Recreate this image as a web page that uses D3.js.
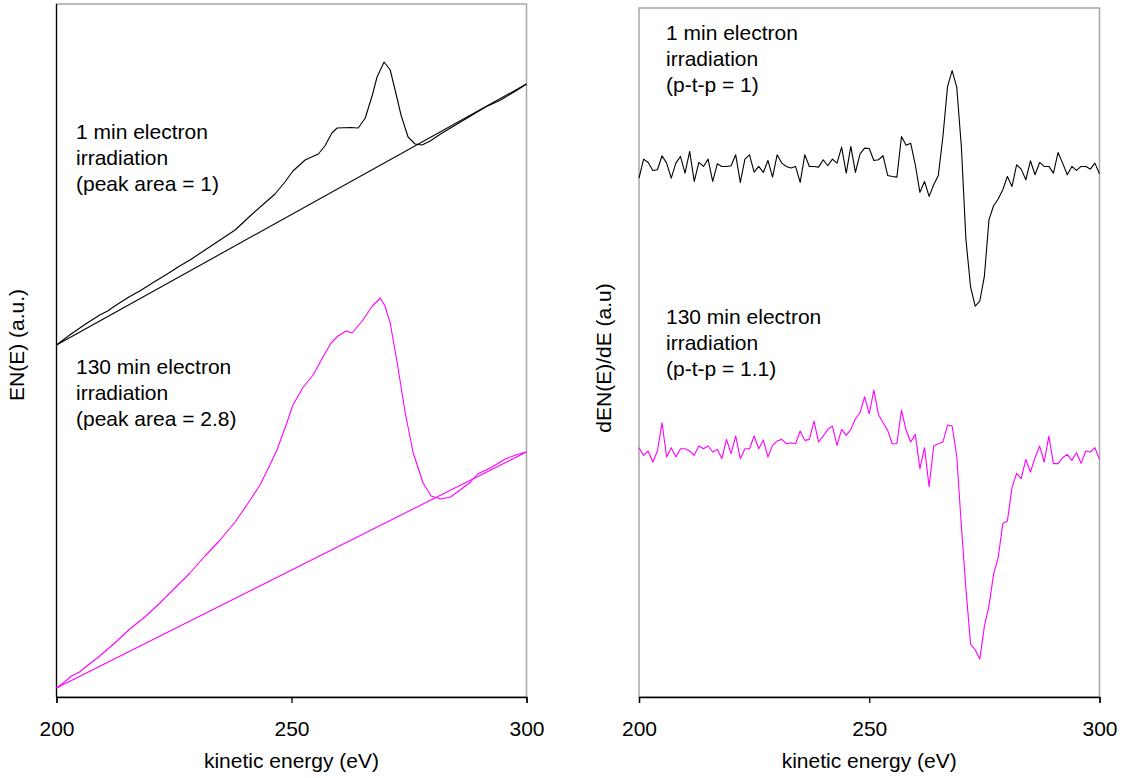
<!DOCTYPE html>
<html>
<head>
<meta charset="utf-8">
<title>EN(E) and dEN(E)/dE spectra</title>
<script src="https://d3js.org/d3.v7.min.js"></script>
<style>
  body { margin: 0; background: #fff; }
  svg text { font-family: "Liberation Sans", Arial, sans-serif; font-size: 21px; fill: #000; }
</style>
</head>
<body>
<svg id="svg" width="1125" height="778"></svg>
<script>
// x axis (kinetic energy, eV)
const xTicks = [200, 250, 300]

// ---- left panel: EN(E), a.u. ----
// 1 min irradiation
const energy1 = [200.0,202.8,206.2,209.2,210.9,212.4,215.4,217.7,221.1,223.9,
  226.2,228.4,231.6,234.8,238.0,241.2,244.3,246.5,248.6,250.3,
  252.9,255.7,257.1,258.6,259.7,262.5,264.2,265.7,267.2,268.2,
  269.7,271.0,272.3,273.3,274.8,276.3,277.8,279.5,281.7,284.9,
  288.1,291.3,294.5,297.7,300.0]
const enE1 = [352,362,373,382,386,391,400,406,416,424,
  431,437,447,457,467,481,494,503,515,526,
  537,543,551,564,569,569.5,569,579,602,620,
  635,627,602,582,560,553,552,556,563,572,
  581,590,597,606,613]
const bgEnergy1 = [200, 300]
const bg1 = [352, 613]

// 130 min irradiation
const energy130 = [200.0,201.7,203.2,204.9,207.0,209.2,212.4,215.6,218.8,222.0,
  225.2,228.4,231.6,234.8,238.0,241.2,243.3,245.4,246.9,249.0,
  250.3,252.5,254.6,256.7,258.4,259.9,261.6,262.9,265.2,267.2,
  268.9,269.9,271.0,272.5,274.2,275.9,278.0,279.7,281.7,283.8,
  285.9,288.1,289.6,292.3,295.5,297.7,300.0]
const enE130 = [9,15,21,25,33,41,54,68,80,94,
  109,124,141,157,175,197,212,232,247,274,
  292,310,322,340,354,361,366,364,377,391,
  399,391,374,334,284,244,214,201,198,200,
  207,215,223,229,238,242,245]
const bgEnergy130 = [200, 300]
const bg130 = [9, 245]

// ---- right panel: dEN(E)/dE, a.u. (1 eV steps) ----
const energyGrid = [200,201,202,203,204,205,206,207,208,209,
  210,211,212,213,214,215,216,217,218,219,
  220,221,222,223,224,225,226,227,228,229,
  230,231,232,233,234,235,236,237,238,239,
  240,241,242,243,244,245,246,247,248,249,
  250,251,252,253,254,255,256,257,258,259,
  260,261,262,263,264,265,266,267,268,269,
  270,271,272,273,274,275,276,277,278,279,
  280,281,282,283,284,285,286,287,288,289,
  290,291,292,293,294,295,296,297,298,299,300]
const dE1 = [152.9,158.6,157.6,155.2,155.4,159.6,157.4,152.9,157.4,159.4,
  154.4,160.9,151.9,157.6,156.4,158.6,151.9,157.2,156.4,156.4,
  156.6,159.9,151.6,158.6,159.9,154.7,156.4,154.6,158.2,153.2,
  159.9,157.4,156.4,155.9,156.4,151.6,159.9,156.4,156.4,156.2,
  158.4,156.6,158.6,157.4,162.2,154.4,162.4,154.6,160.2,161.9,
  161.8,158.2,158.4,159.6,153.7,153.4,153.2,165.4,162.8,163.4,
  156.9,148.6,151.9,147.4,150.9,153.7,165.4,180.4,185.2,180.2,
  162.4,134.4,120.2,114.4,115.9,123.4,140.4,144.6,146.6,149.4,
  153.4,150.4,156.9,155.6,152.4,158.1,153.9,157.6,156.4,156.4,
  154.4,160.6,157.4,153.9,156.4,155.2,156.4,156.4,155.6,157.4,154.2]
const dE130 = [71.9,69.6,70.9,67.6,70.9,79.4,69.1,71.9,69.1,71.6,
  71.6,70.9,69.6,72.4,71.6,72.4,70.6,71.4,68.6,74.4,
  70.1,75.4,68.6,71.6,71.6,75.4,71.6,74.2,69.1,72.6,
  73.9,74.4,73.1,73.4,73.1,76.9,74.1,74.4,79.9,73.6,
  75.4,77.4,78.4,72.6,77.4,75.6,77.4,80.6,82.4,87.2,
  82.1,89.2,81.9,79.4,77.1,73.1,73.1,83.2,77.2,73.6,
  75.9,65.6,71.9,60.2,72.4,73.1,73.6,78.7,78.4,69.4,
  48.4,29.4,12.9,11.2,8.4,18.2,24.4,33.9,38.9,49.1,
  49.9,59.9,64.2,62.6,68.4,64.6,68.9,72.4,67.6,75.4,
  67.1,67.1,68.9,69.9,68.1,70.4,67.2,70.9,70.6,71.9,68.4]

const svg = d3.select('#svg')
svg.append('rect').attr('width', 1125).attr('height', 778).attr('fill', '#fff')

const bottom = 697

// panel frames
function panel(x0, x1, top, yDomain, solidLeft) {
  const x = d3.scaleLinear().domain([200, 300]).range([x0, x1])
  const y = d3.scaleLinear().domain(yDomain).range([bottom, top])
  svg.append('rect')
    .attr('x', x0).attr('y', top)
    .attr('width', x1 - x0).attr('height', bottom - top)
    .attr('fill', 'none').attr('stroke', '#a6a6a6').attr('stroke-width', 1.5)
  if (solidLeft) {
    svg.append('line').attr('x1', x0).attr('x2', x0).attr('y1', top).attr('y2', bottom)
      .attr('stroke', '#000').attr('stroke-width', 1.2)
  }
  const ax = svg.append('g')
    .attr('transform', `translate(0,${bottom})`)
    .call(d3.axisBottom(x).tickValues(xTicks).tickSize(6).tickPadding(18).tickFormat(d3.format('d')))
  ax.select('.domain').attr('stroke', '#000').attr('stroke-width', 1.3)
  ax.selectAll('.tick line').attr('stroke', '#000').attr('stroke-width', 1.3)
  ax.selectAll('text').attr('font-size', 21).attr('font-family', '"Liberation Sans", Arial, sans-serif')
  svg.append('text').attr('x', (x0 + x1) / 2).attr('y', 768)
    .attr('text-anchor', 'middle').text('kinetic energy (eV)')
  return { x, y }
}

function drawLine(sc, xs, ys, color) {
  const line = d3.line().x(d => sc.x(d[0])).y(d => sc.y(d[1]))
  svg.append('path')
    .datum(xs.map((e, i) => [e, ys[i]]))
    .attr('d', line)
    .attr('fill', 'none')
    .attr('stroke', color)
    .attr('stroke-width', 1.1)
    .attr('stroke-linejoin', 'round')
}

function note(x, y, lines) {
  const t = svg.append('text').attr('x', x).attr('y', y)
  lines.forEach((s, i) => t.append('tspan').attr('x', x).attr('dy', i ? 26 : 0).text(s))
}

// left panel
const L = panel(56.5, 526.5, 4, [0, 693], true)
drawLine(L, bgEnergy1, bg1, '#000')
drawLine(L, energy1, enE1, '#000')
drawLine(L, bgEnergy130, bg130, '#ff00ff')
drawLine(L, energy130, enE130, '#ff00ff')
note(76, 139, ['1 min electron', 'irradiation', '(peak area = 1)'])
note(76, 374, ['130 min electron', 'irradiation', '(peak area = 2.8)'])
svg.append('text').attr('transform', 'translate(24,345) rotate(-90)')
  .attr('font-size', 19).attr('text-anchor', 'middle').text('EN(E) (a.u.)')

// right panel
const R = panel(639, 1099.5, 8, [-3, 204], false)
drawLine(R, energyGrid, dE1, '#000')
drawLine(R, energyGrid, dE130, '#ff00ff')
note(666, 40, ['1 min electron', 'irradiation', '(p-t-p = 1)'])
note(666, 324, ['130 min electron', 'irradiation', '(p-t-p = 1.1)'])
svg.append('text').attr('transform', 'translate(611,358) rotate(-90)')
  .attr('font-size', 19).attr('text-anchor', 'middle').text('dEN(E)/dE (a.u)')
</script>
</body>
</html>
